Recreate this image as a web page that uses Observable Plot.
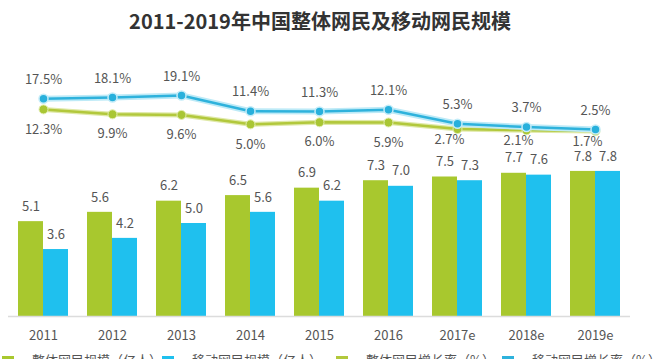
<!DOCTYPE html>
<html>
<head>
<meta charset="utf-8">
<script src="https://cdn.jsdelivr.net/npm/d3@7"></script>
<script src="https://cdn.jsdelivr.net/npm/@observablehq/plot@0.6"></script>
<style>
  html, body { margin: 0; padding: 0; background: #fff; }
  body { width: 660px; height: 359px; overflow: hidden; position: relative; font-family: "Noto Sans CJK SC", "Noto Sans", sans-serif; }
  #title { position: absolute; left: 0; top: 0; width: 640px; height: 40px; line-height: 42px; text-align: center; font-size: 20px; font-weight: bold; color: #333; }
  #chart { position: absolute; left: 0; top: 40px; width: 660px; height: 305px; }
  #chart svg { position: absolute; left: 0; top: 0; }
  #legend { position: absolute; left: 0; top: 351px; width: 660px; height: 20px; font-size: 13px; color: #555; }
  .item { position: absolute; top: 0; white-space: nowrap; line-height: 18px; }
  .sw { display: inline-block; width: 12px; height: 10px; margin-right: 18px; vertical-align: middle; }
</style>
</head>
<body>
<div id="title">2011-2019年中国整体网民及移动网民规模</div>
<div id="chart"></div>
<div id="legend"></div>
<script>
const years = ["2011", "2012", "2013", "2014", "2015", "2016", "2017e", "2018e", "2019e"];
const totalUsers = [5.1, 5.6, 6.2, 6.5, 6.9, 7.3, 7.5, 7.7, 7.8];
const mobileUsers = [3.6, 4.2, 5.0, 5.6, 6.2, 7.0, 7.3, 7.6, 7.8];
const totalGrowth = [12.3, 9.9, 9.6, 5.0, 6.0, 5.9, 2.7, 2.1, 1.7];
const mobileGrowth = [17.5, 18.1, 19.1, 11.4, 11.3, 12.1, 5.3, 3.7, 2.5];
const seriesNames = ["整体网民规模（亿人）", "移动网民规模（亿人）", "整体网民增长率（%）", "移动网民增长率（%）"];

const green = "#a8c82e";
const cyan = "#1fc0ee";
const lineGreen = "#b2c83c";
const lineCyan = "#2eb2dc";
const textColor = "#555";

const rows = years.map((y, i) => ({
  year: y, total: totalUsers[i], mobile: mobileUsers[i],
  tg: totalGrowth[i], mg: mobileGrowth[i], i
}));

const fmt1 = d3.format(".1f");
const fmtPct = v => d3.format(".1f")(v) + "%";

const W = 660, H = 305;
const xScale = {
  type: "band", domain: years, range: [8, 630],
  paddingInner: 0.278, paddingOuter: 0.13
};
const font = "'Noto Sans CJK SC', 'Noto Sans', sans-serif";

const bars = Plot.plot({
  width: W, height: H,
  marginTop: 90, marginBottom: 29, marginLeft: 8, marginRight: 30,
  style: { background: "transparent", fontFamily: font },
  x: { ...xScale, axis: null, label: null },
  y: { domain: [0, 10], axis: null },
  marks: [
    Plot.barY(rows, { x: "year", y: "total", fill: green, insetRight: 25 }),
    Plot.barY(rows, { x: "year", y: "mobile", fill: cyan, insetLeft: 25 }),
    Plot.ruleY([0], { stroke: "#dcdcdc", strokeWidth: 1.5 }),
    Plot.text(rows, { x: "year", y: "total", text: d => fmt1(d.total), dx: -12.5, dy: -15, fontSize: 13, fill: textColor }),
    Plot.text(rows, { x: "year", y: "mobile", text: d => fmt1(d.mobile), dx: 12.5, dy: -15, fontSize: 13, fill: textColor }),
    Plot.axisX({ tickSize: 0, tickPadding: 14, fontSize: 13, fill: textColor, label: null })
  ]
});

const lines = Plot.plot({
  width: W, height: H,
  marginTop: 42.85, marginBottom: H - 94.1, marginLeft: 8, marginRight: 30,
  style: { background: "transparent", fontFamily: font, overflow: "visible" },
  x: { ...xScale, axis: null },
  y: { domain: [0, 25], axis: null },
  marks: [
    Plot.line(rows, { x: "year", y: "tg", stroke: "#dfe9a8", strokeWidth: 5 }),
    Plot.line(rows, { x: "year", y: "tg", stroke: lineGreen, strokeWidth: 2.5 }),
    Plot.dot(rows, { x: "year", y: "tg", r: 4.5, fill: "#a9c634", stroke: "#e3eeb0", strokeWidth: 1 }),
    Plot.line(rows, { x: "year", y: "mg", stroke: "#bdeaf7", strokeWidth: 6 }),
    Plot.line(rows, { x: "year", y: "mg", stroke: lineCyan, strokeWidth: 2.5 }),
    Plot.dot(rows, { x: "year", y: "mg", r: 4.5, fill: "#28b0dc", stroke: "#c4ecf8", strokeWidth: 1.5 }),
    Plot.text(rows, { x: "year", y: "mg", text: d => fmtPct(d.mg), dy: -19, fontSize: 13, fill: textColor }),
    Plot.text(rows, { filter: d => d.i < 6, x: "year", y: "tg", text: d => fmtPct(d.tg), dy: 20, fontSize: 13, fill: textColor }),
    Plot.text(rows, { filter: d => d.i >= 6, x: "year", y: "tg", text: d => fmtPct(d.tg), dx: -8, dy: 11, fontSize: 13, fill: textColor })
  ]
});

const chart = document.getElementById("chart");
chart.appendChild(bars);
chart.appendChild(lines);

const legend = document.getElementById("legend");
const legendColors = [green, cyan, lineGreen, lineCyan];
const legendLefts = [2, 162, 336, 502];
seriesNames.forEach((name, k) => {
  const it = document.createElement("div");
  it.className = "item";
  it.style.left = legendLefts[k] + "px";
  const sw = document.createElement("span");
  sw.className = "sw";
  sw.style.background = legendColors[k];
  it.appendChild(sw);
  it.appendChild(document.createTextNode(name));
  legend.appendChild(it);
});
</script>
</body>
</html>
